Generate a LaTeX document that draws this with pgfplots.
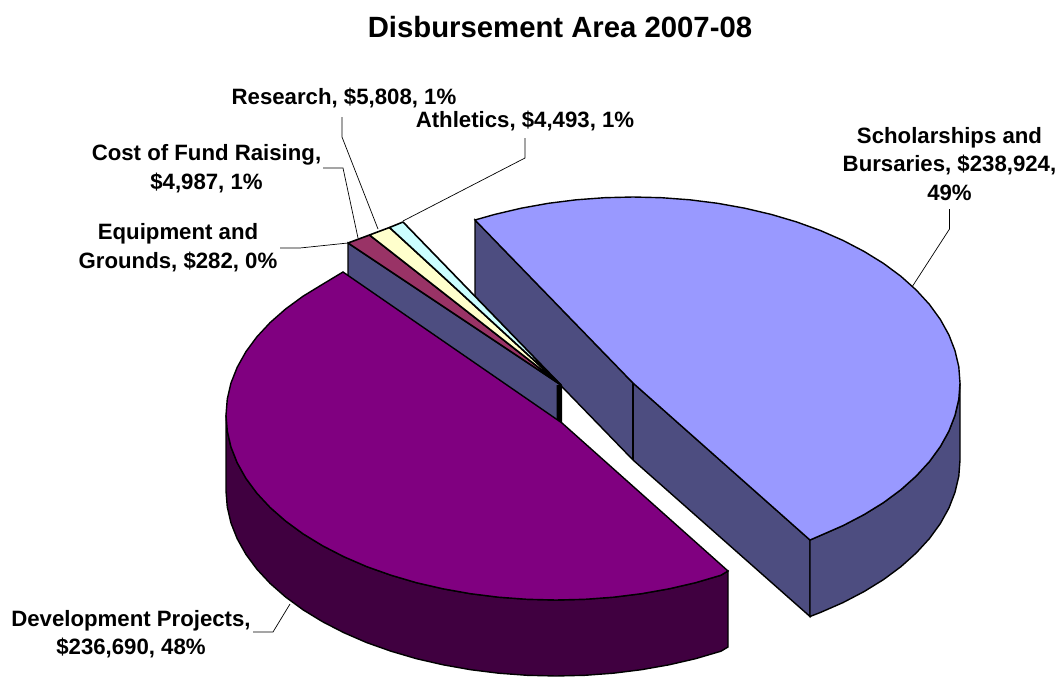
\documentclass[border=0pt]{standalone}
\usepackage{fontspec}
\setmainfont{Liberation Sans}
\usepackage{pgfplots}
\pgfplotsset{compat=1.18}
\definecolor{schol}{HTML}{9999FF}
\definecolor{scholside}{HTML}{4D4D80}
\definecolor{devel}{HTML}{800080}
\definecolor{develside}{HTML}{400040}
\definecolor{fund}{HTML}{993366}
\definecolor{resrch}{HTML}{FFFFCC}
\definecolor{athl}{HTML}{CCFFFF}
\tikzset{lab/.style={align=center,font=\fontsize{22.2}{28.5}\selectfont\bfseries,inner sep=0pt}}
\begin{document}
\begin{tikzpicture}
\path[use as bounding box] (0,0) rectangle (1061pt,677pt);
\begin{axis}[at={(0,0)},anchor=south west,width=1061pt,height=677pt,scale only axis,hide axis,
  xmin=0,xmax=1061,ymin=0,ymax=677,y dir=reverse,clip=false]
% inner wall of the scholarships slice
\addplot[fill=scholside,draw=black,line width=1.4pt] coordinates {
 (475,220)(633,383)(810,540)(810,616.5)(633,460)(475,297)} -- cycle;
% outer wall
\addplot[fill=scholside,draw=black,line width=1.4pt] coordinates {
 (960,383)(958.8,399.2)(955,415.3)(948.9,431.1)(940.3,446.6)(929.4,461.6)(916.2,476)(900.9,489.7)
 (883.5,502.6)(864.2,514.5)(843.2,525.5)(820.6,535.4)(810,540)
 (810,616.5)(820.6,612.4)(843.2,602.5)(864.2,591.5)(883.5,579.6)(900.9,566.7)(916.2,553)
 (929.4,538.6)(940.3,523.6)(948.9,508.1)(955,492.3)(958.8,476.2)(960,460)} -- cycle;
% top face
\addplot[fill=schol,draw=black,line width=1.4pt] coordinates {
 (633,383)(475,220)(494.8,214.4)(521.2,208.2)(548.4,203.3)(576.2,199.8)(604.5,197.7)(633,197)
 (661.5,197.7)(689.8,199.8)(717.6,203.3)(744.8,208.2)(771.2,214.4)(796.5,221.9)(820.6,230.6)
 (843.2,240.5)(864.2,251.5)(883.5,263.4)(900.9,276.3)(916.2,290)(929.4,304.4)(940.3,319.4)
 (948.9,334.9)(955,350.7)(958.8,366.8)(960,383)(958.8,399.2)(955,415.3)(948.9,431.1)(940.3,446.6)
 (929.4,461.6)(916.2,476)(900.9,489.7)(883.5,502.6)(864.2,514.5)(843.2,525.5)(820.6,535.4)(810,540)} -- cycle;
\addplot[black,line width=1.4pt] coordinates {(633,383)(633,460)};
% small slices
\addplot[fill=scholside,draw=black,line width=1.4pt] coordinates {
 (348,243)(561,385)(561,423)(500,400)(348,320)} -- cycle;
\addplot[fill=fund,draw=black,line width=1.6pt,line join=bevel] coordinates {(348,243)(369.5,235)(561,385)} -- cycle;
\addplot[fill=resrch,draw=black,line width=1.6pt,line join=bevel] coordinates {(369.5,235)(389.5,227.5)(561,385)} -- cycle;
\addplot[fill=athl,draw=black,line width=1.6pt,line join=bevel] coordinates {(389.5,227.5)(403,222)(561,385)} -- cycle;
\addplot[fill=black,draw=none] coordinates {(556.5,385)(562,385)(562,424)(556.5,420)} -- cycle;
% development wall
\addplot[fill=develside,draw=black,line width=1.4pt] coordinates {
 (226,415)(227.3,431.1)(231,447.1)(237.3,462.9)(245.9,478.3)(256.9,493.2)(270.2,507.5)(285.7,521.1)
 (303.2,533.9)(322.7,545.8)(343.9,556.7)(366.7,566.6)(391,575.2)(416.5,582.7)(443.1,588.8)
 (470.6,593.7)(498.7,597.2)(527.2,599.3)(556,600)(584.8,599.3)(613.3,597.2)(641.4,593.7)
 (669.1,588.8)(695.5,582.7)(721,575.2)(728,571)
 (728,647)(721,651.2)(695.5,658.7)(669.1,664.8)(641.4,669.7)(613.3,673.2)(584.8,675.3)(556,676)
 (527.2,675.3)(498.7,673.2)(470.6,669.7)(443.1,664.8)(416.5,658.7)(391,651.2)(366.7,642.6)
 (343.9,632.7)(322.7,621.8)(303.2,609.9)(285.7,597.1)(270.2,583.5)(256.9,569.2)(245.9,554.3)
 (237.3,538.9)(231,523.1)(227.3,507.1)(226,491)} -- cycle;
% development top
\addplot[fill=devel,draw=black,line width=1.4pt] coordinates {
 (562,423)(343,272)(322.7,284.2)(303.2,296.1)(285.7,308.9)(270.2,322.5)(256.9,336.8)(245.9,351.7)
 (237.3,367.1)(231,382.9)(227.3,398.9)(226,415)(227.3,431.1)(231,447.1)(237.3,462.9)(245.9,478.3)
 (256.9,493.2)(270.2,507.5)(285.7,521.1)(303.2,533.9)(322.7,545.8)(343.9,556.7)(366.7,566.6)
 (391,575.2)(416.5,582.7)(443.1,588.8)(470.6,593.7)(498.7,597.2)(527.2,599.3)(556,600)(584.8,599.3)
 (613.3,597.2)(641.4,593.7)(669.1,588.8)(695.5,582.7)(721,575.2)(728,571)} -- cycle;
% leader lines
\addplot[black,line width=0.7pt] coordinates {(949.5,209)(949.5,229)(912,287)};
\addplot[black,line width=0.7pt] coordinates {(290,604)(273,632)(253,632)};
\addplot[black,line width=0.7pt] coordinates {(280,248)(300,248)(348,243)};
\addplot[black,line width=0.7pt] coordinates {(323,168)(343,168)(358,238)};
\addplot[black,line width=0.7pt] coordinates {(342,117)(342,137)(378,229)};
\addplot[black,line width=0.7pt] coordinates {(525,138)(525,158)(403,221)};
% labels
\node[lab,font=\fontsize{29.3}{34}\selectfont\bfseries] at (axis cs:560,27) {Disbursement Area 2007-08};
\node[lab] at (axis cs:344,98) {Research, \$5,808, 1\%};
\node[lab] at (axis cs:525,121) {Athletics, \$4,493, 1\%};
\node[lab] at (axis cs:949.5,164) {Scholarships and\\Bursaries, \$238,924,\\49\%};
\node[lab] at (axis cs:206.5,168.5) {Cost of Fund Raising,\\\$4,987, 1\%};
\node[lab] at (axis cs:178,247.5) {Equipment and\\Grounds, \$282, 0\%};
\node[lab] at (axis cs:131,634) {Development Projects,\\\$236,690, 48\%};
\end{axis}
\end{tikzpicture}
\end{document}
